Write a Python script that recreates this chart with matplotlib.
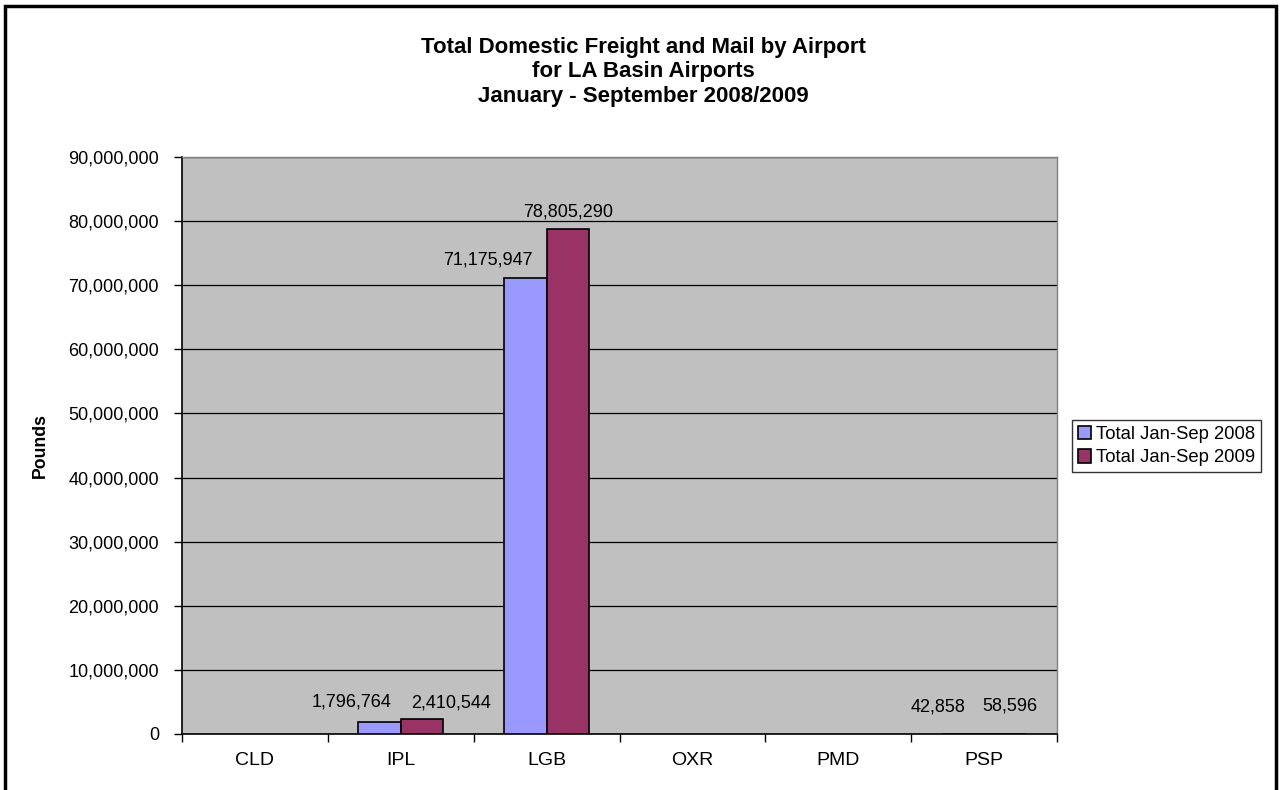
import numpy as np
import matplotlib.pyplot as plt
from matplotlib.patches import Rectangle
from matplotlib.ticker import FuncFormatter

airports = ["CLD", "IPL", "LGB", "OXR", "PMD", "PSP"]
total_2008 = [np.nan, 1796764, 71175947, np.nan, np.nan, 42858]
total_2009 = [np.nan, 2410544, 78805290, np.nan, np.nan, 58596]
series_names = ["Total Jan-Sep 2008", "Total Jan-Sep 2009"]
colors = ["#9999FF", "#993366"]

# data label nudges (pixels), as placed in the original chart
label_dx = [[0, -28, -38, 0, 0, -25], [0, 29, 0, 0, 0, 5]]
label_dy = [[0, 20, 18, 0, 0, 27], [0, 16, 17, 0, 0, 28]]

plt.rcParams["font.family"] = ["Liberation Sans", "DejaVu Sans"]

fig = plt.figure(figsize=(12.82, 7.9), dpi=100)
ax = fig.add_axes([182 / 1282, 1 - 734 / 790, 875 / 1282, 577 / 790])
ax.set_facecolor("#C0C0C0")

x = np.arange(len(airports))
w = 0.29
series = [total_2008, total_2009]
for i, (vals, name, c) in enumerate(zip(series, series_names, colors)):
    pos = x + (i - 0.5) * w
    ax.bar(pos, vals, w, color=c, edgecolor="black", linewidth=1.2, label=name, zorder=3)
    for j, (p, v) in enumerate(zip(pos, vals)):
        if not np.isnan(v):
            ax.annotate(f"{int(v):,}", xy=(p, v), xytext=(label_dx[i][j], label_dy[i][j]),
                        textcoords="offset pixels", ha="center", va="center",
                        fontsize=13, zorder=4)

ax.set_xlim(-0.5, len(airports) - 0.5)
ax.set_ylim(0, 90000000)
ax.set_yticks(np.arange(0, 90000001, 10000000))
ax.yaxis.set_major_formatter(FuncFormatter(lambda v, p: f"{int(v):,}"))
ax.grid(axis="y", color="black", linewidth=0.9, zorder=1)
ax.set_axisbelow(True)

ax.set_xticks(x)
ax.set_xticklabels(airports, fontsize=14)
ax.set_xticks(np.arange(-0.5, len(airports)), minor=True)
ax.tick_params(axis="x", which="major", length=0, pad=13)
ax.tick_params(axis="x", which="minor", length=6, width=1, direction="out")
ax.tick_params(axis="y", length=6, width=1, direction="out", labelsize=13, pad=10.5)

for s in ["left", "bottom"]:
    ax.spines[s].set_color("black")
    ax.spines[s].set_linewidth(1.2)
for s in ["top", "right"]:
    ax.spines[s].set_color("#808080")
    ax.spines[s].set_linewidth(1)

ax.set_ylabel("Pounds", fontsize=12.7, fontweight="bold")
ax.yaxis.set_label_coords((49 - 182) / 875, 0.5)

fig.text(643 / 1282, 1 - 72 / 790,
         "Total Domestic Freight and Mail by Airport\nfor LA Basin Airports\nJanuary - September 2008/2009",
         ha="center", va="center", fontsize=16, fontweight="bold", linespacing=1.24)

leg = fig.legend(loc="center left", bbox_to_anchor=(1072 / 1282, 1 - 446 / 790),
                 fontsize=13.3, frameon=True, fancybox=False, edgecolor="black",
                 handlelength=0.75, handleheight=0.75, handletextpad=0.25,
                 borderpad=0.3, labelspacing=0.35, borderaxespad=0)
leg.get_frame().set_linewidth(1)

fig.patches.append(Rectangle((5 / 1282, -0.01), 1271 / 1282, 1 - 6 / 790 + 0.01,
                             transform=fig.transFigure, fill=False,
                             edgecolor="black", linewidth=2.5))

fig.savefig("out.png", dpi=100)
